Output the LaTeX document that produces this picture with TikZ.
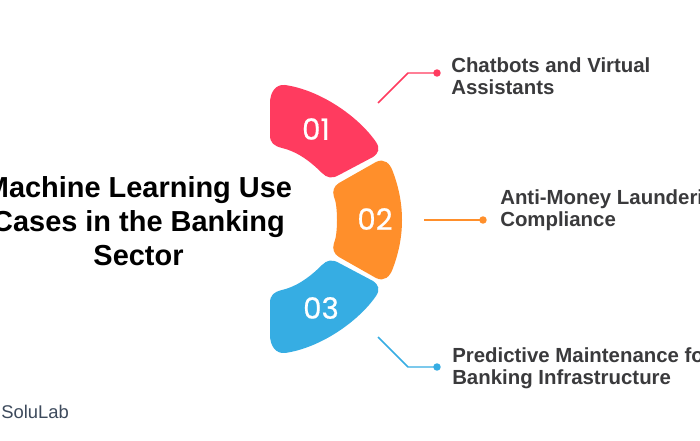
\documentclass[tikz,border=0pt]{standalone}
\usepackage{fontspec}
\setmainfont{Liberation Sans}
\newfontfamily\numfont[FakeBold=0.6]{Poppins}
\definecolor{redblock}{HTML}{FF3B5F}
\definecolor{orangeblock}{HTML}{FF8F2B}
\definecolor{blueblock}{HTML}{36ADE3}
\definecolor{greytext}{HTML}{3A3A3C}
\definecolor{logotext}{HTML}{3D4A5C}
\tikzset{
	blocknum/.style={text=white,font=\numfont\fontsize{22}{22}\selectfont},
	itemtext/.style={anchor=west,align=left,text=greytext,inner sep=0pt,font=\bfseries\fontsize{15.3}{16.5}\selectfont},
	titletext/.style={align=center,text=black,inner sep=0pt,font=\bfseries\fontsize{21.7}{25.5}\selectfont},
	dotnode/.style={circle,inner sep=0pt,minimum size=5.6pt},
	leader/.style={line width=1.1pt}
}

\begin{document}
\begin{tikzpicture}[x=0.75pt,y=-0.75pt]
	\useasboundingbox (0,0) rectangle (700,441);
	\clip (0,0) rectangle (700,441);
	\fill[white] (0,0) rectangle (700,441);
	% blocks
	\fill[redblock] (270,103) .. controls (270,92) and (276,84) .. (285,85)
		.. controls (320,90) and (358,116) .. (376,142)
		.. controls (380,148) and (379,153) .. (373,157)
		-- (339,175) .. controls (332,179) and (327,178) .. (322,173)
		.. controls (308,159) and (295,151) .. (282,148)
		.. controls (274,146) and (270,143) .. (270,135) -- cycle;
	\fill[orangeblock] (376,162) .. controls (384,158) and (390,163) .. (393,172)
		.. controls (399,188) and (402,204) .. (402,220)
		.. controls (402,236) and (399,252) .. (393,268)
		.. controls (390,277) and (384,282) .. (376,278)
		-- (339,257) .. controls (334,254) and (332,249) .. (334,243)
		.. controls (338,235) and (338,205) .. (334,197)
		.. controls (332,191) and (334,186) .. (339,183) -- cycle;
	\fill[blueblock] (270,335) .. controls (270,346) and (276,354) .. (285,353)
		.. controls (320,348) and (358,322) .. (376,296)
		.. controls (380,290) and (379,285) .. (373,281)
		-- (339,263) .. controls (332,259) and (327,260) .. (322,265)
		.. controls (308,279) and (295,287) .. (282,290)
		.. controls (274,292) and (270,295) .. (270,303) -- cycle;
	\node[blocknum] (num1) at (316,129) {01};
	\node[blocknum] (num2) at (375,219) {02};
	\node[blocknum] (num3) at (321,308) {03};
	% leaders
	\coordinate (start1) at (378,103);
	\coordinate (bend1) at (408,73);
	\node[dotnode,fill=redblock] (dot1) at (437,73) {};
	\draw[leader,redblock] (start1) -- (bend1) -- (dot1.center);
	\coordinate (start2) at (424,220);
	\node[dotnode,fill=orangeblock] (dot2) at (483,220) {};
	\draw[leader,orangeblock] (start2) -- (dot2.center);
	\coordinate (start3) at (378,337);
	\coordinate (bend3) at (408,367);
	\node[dotnode,fill=blueblock] (dot3) at (437,367) {};
	\draw[leader,blueblock] (start3) -- (bend3) -- (dot3.center);
	% texts
	\node[itemtext] (item1) at (451,76) {Chatbots and Virtual\\Assistants};
	\node[itemtext] (item2) at (500,210) {Anti-Money Laundering\\Compliance};
	\node[itemtext] (item3) at (452,368) {Predictive Maintenance for\\Banking Infrastructure};
	\node[titletext] (title) at (138.5,221) {Machine Learning Use\\Cases in the Banking\\Sector};
	\node[anchor=west,inner sep=0pt,text=logotext,font=\fontsize{13.8}{13.8}\selectfont] (logo) at (1,412) {SoluLab};
\end{tikzpicture}
\end{document}
